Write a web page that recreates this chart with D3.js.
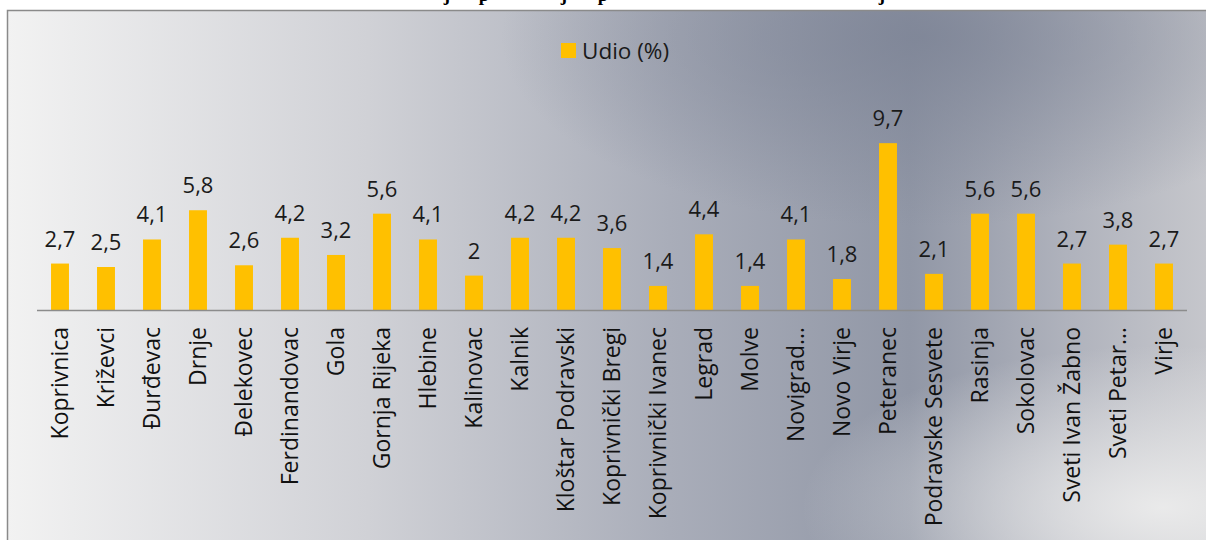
<!DOCTYPE html>
<html><head><meta charset="utf-8">
<script src="https://cdn.jsdelivr.net/npm/d3@7"></script>
<style>html,body{margin:0;padding:0;background:#fff;}svg{display:block;}</style>
</head><body>
<script>
const categories = ["Koprivnica","Križevci","Đurđevac","Drnje","Đelekovec","Ferdinandovac","Gola","Gornja Rijeka","Hlebine","Kalinovac","Kalnik","Kloštar Podravski","Koprivnički Bregi","Koprivnički Ivanec","Legrad","Molve","Novigrad…","Novo Virje","Peteranec","Podravske Sesvete","Rasinja","Sokolovac","Sveti Ivan Žabno","Sveti Petar…","Virje"];
const values = [2.7,2.5,4.1,5.8,2.6,4.2,3.2,5.6,4.1,2,4.2,4.2,3.6,1.4,4.4,1.4,4.1,1.8,9.7,2.1,5.6,5.6,2.7,3.8,2.7];
const seriesName = "Udio (%)";
const titleFragments = [{t:"j",x:447},{t:"p",x:484},{t:"j",x:564},{t:"p",x:603},{t:"j",x:882}];

const W=1206,H=540;
const svg=d3.select("body").append("svg").attr("width",W).attr("height",H);
const defs=svg.append("defs");
const lg=defs.append("linearGradient").attr("id","bg").attr("x1","0").attr("y1","0").attr("x2","1").attr("y2","0");
[[0,"#f2f2f2"],[0.3,"#d0d1d6"],[0.55,"#a9adb9"],[0.75,"#9197a6"],[0.88,"#afb2bc"],[1,"#c6c7cc"]].forEach(s=>lg.append("stop").attr("offset",s[0]).attr("stop-color",s[1]));
const rg=defs.append("radialGradient").attr("id","dark").attr("cx","0.76").attr("cy","0.05").attr("r","0.35");
rg.append("stop").attr("offset",0).attr("stop-color","#7c8395").attr("stop-opacity",0.8);
rg.append("stop").attr("offset",1).attr("stop-color","#7c8395").attr("stop-opacity",0);
const rg2=defs.append("radialGradient").attr("id","light").attr("cx","0.96").attr("cy","0.92").attr("r","0.3");
rg2.append("stop").attr("offset",0).attr("stop-color","#ececec").attr("stop-opacity",0.95);
rg2.append("stop").attr("offset",1).attr("stop-color","#ececec").attr("stop-opacity",0);

// title (only the descenders of its letters are visible above the chart frame)
svg.append("g").selectAll("text").data(titleFragments).join("text")
  .attr("x",d=>d.x).attr("y",1).attr("text-anchor","middle")
  .attr("font-family","Liberation Serif").attr("font-weight","bold").attr("font-size",19)
  .attr("fill","#000").text(d=>d.t);

const fx=7.5, fy=10.5;
svg.append("rect").attr("x",fx).attr("y",fy).attr("width",W-fx+5).attr("height",H).attr("fill","url(#bg)");
svg.append("rect").attr("x",fx).attr("y",fy).attr("width",W-fx+5).attr("height",H).attr("fill","url(#dark)");
svg.append("rect").attr("x",fx).attr("y",fy).attr("width",W-fx+5).attr("height",H).attr("fill","url(#light)");
svg.append("rect").attr("x",fx).attr("y",fy).attr("width",W-fx+5).attr("height",H).attr("fill","none").attr("stroke","#8a8a8a").attr("stroke-width",1.5);

const x=d3.scaleBand().domain(categories).range([37,1187]).paddingInner(0.61).paddingOuter(0.305);
const y=d3.scaleLinear().domain([0,10]).range([310,138]);

svg.append("g").selectAll("rect").data(values).join("rect")
  .attr("x",(d,i)=>x(categories[i])).attr("width",x.bandwidth())
  .attr("y",d=>y(d)).attr("height",d=>y(0)-y(d)).attr("fill","#ffc000");

svg.append("line").attr("x1",37).attr("x2",1187).attr("y1",y(0)+0.5).attr("y2",y(0)+0.5).attr("stroke","#8c8c8c").attr("stroke-width",1.5);

const font="'Open Sans', Lato, sans-serif";
svg.append("g").selectAll("text").data(values).join("text")
  .attr("x",(d,i)=>x(categories[i])+x.bandwidth()/2).attr("y",d=>y(d)-17)
  .attr("text-anchor","middle").attr("font-family",font).attr("font-size",22).attr("fill","#1a1a1a")
  .text(d=>String(d).replace(".",","));

svg.append("g").selectAll("text").data(categories).join("text")
  .attr("transform",d=>`translate(${x(d)+x.bandwidth()/2+8},327) rotate(-90)`)
  .attr("text-anchor","end").attr("font-family",font).attr("font-size",23).attr("fill","#111")
  .text(d=>d);

const lgd=svg.append("g");
lgd.append("rect").attr("x",561).attr("y",43).attr("width",15).attr("height",15).attr("fill","#ffc000");
lgd.append("text").attr("x",582).attr("y",59).attr("font-family",font).attr("font-size",22.5).attr("fill","#1a1a1a").text(seriesName);
</script>
</body></html>
